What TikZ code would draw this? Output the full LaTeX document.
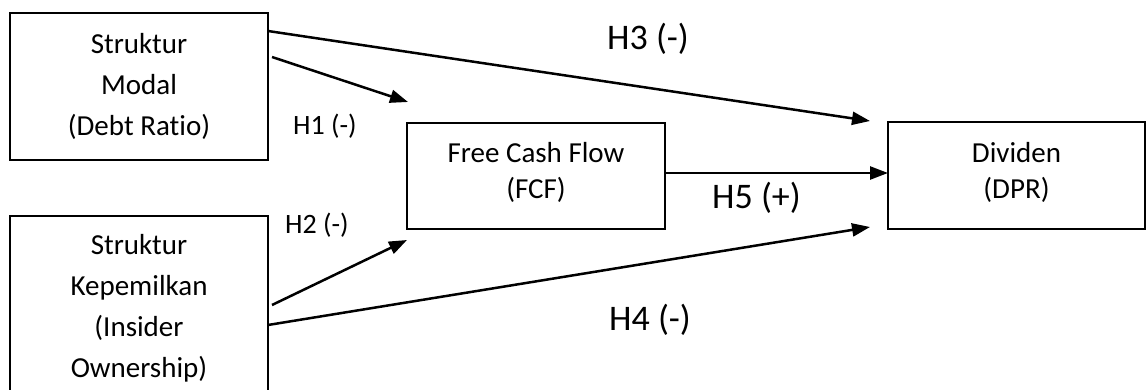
\documentclass[tikz,border=0pt]{standalone}
\usepackage{fontspec}
\setmainfont{Carlito}[Ligatures={NoCommon}]
\usetikzlibrary{arrows.meta}
\begin{document}
\begin{tikzpicture}[x=1pt,y=-1pt,
  box/.style={draw, line width=2.2pt, inner sep=0pt, outer sep=0pt},
  txt/.style={align=center, inner sep=0pt, font=\fontsize{29}{41}\selectfont},
  hyp/.style={inner sep=0pt, anchor=base west, font=\fontsize{36}{40}\selectfont},
  hyps/.style={inner sep=0pt, anchor=base west, font=\fontsize{28}{34}\selectfont},
  conn/.style={-{Triangle[length=18pt,width=13pt]}, line width=2.5pt}]
\useasboundingbox (0,0) rectangle (1147,390);
% boxes
\node[box, minimum width=258pt, minimum height=147pt] (sm) at (139,86.5) {};
\node[box, minimum width=258pt, minimum height=178pt] (sk) at (139,305) {};
\node[box, minimum width=258pt, minimum height=106pt] (fcf) at (536,176) {};
\node[box, minimum width=257pt, minimum height=107pt] (div) at (1016.5,175.5) {};
% texts
\node[txt] (smt) at (139,86.5) {Struktur\\Modal\\(Debt Ratio)};
\node[txt] (skt) at (139,308) {Struktur\\Kepemilkan\\(Insider\\Ownership)};
\node[txt, font=\fontsize{29}{36}\selectfont] (fcft) at (536,172.5) {Free Cash Flow\\(FCF)};
\node[txt, font=\fontsize{29}{36}\selectfont] (divt) at (1016.5,172.5) {Dividen\\(DPR)};
% free ends
\coordinate (h3s) at (268,31);
\coordinate (h3e) at (870,121);
\coordinate (h1s) at (272,57);
\coordinate (h1e) at (408,102);
\coordinate (h2s) at (272,305);
\coordinate (h2e) at (407,240);
\coordinate (h4s) at (268,325);
\coordinate (h4e) at (870,227);
\coordinate (h5s) at (665,173);
\coordinate (h5e) at (888,173);
% connectors
\draw[conn] (h3s) -- (h3e);
\draw[conn] (h1s) -- (h1e);
\draw[conn] (h2s) -- (h2e);
\draw[conn] (h4s) -- (h4e);
\draw[conn] (h5s) -- (h5e);
% labels
\node[hyp] (l3) at (607,50) {H3 (-)};
\node[hyps] (l1) at (293,135) {H1 (-)};
\node[hyps] (l2) at (285,233) {H2 (-)};
\node[hyp] (l5) at (712,208) {H5 (+)};
\node[hyp] (l4) at (609,330) {H4 (-)};
\end{tikzpicture}
\end{document}
